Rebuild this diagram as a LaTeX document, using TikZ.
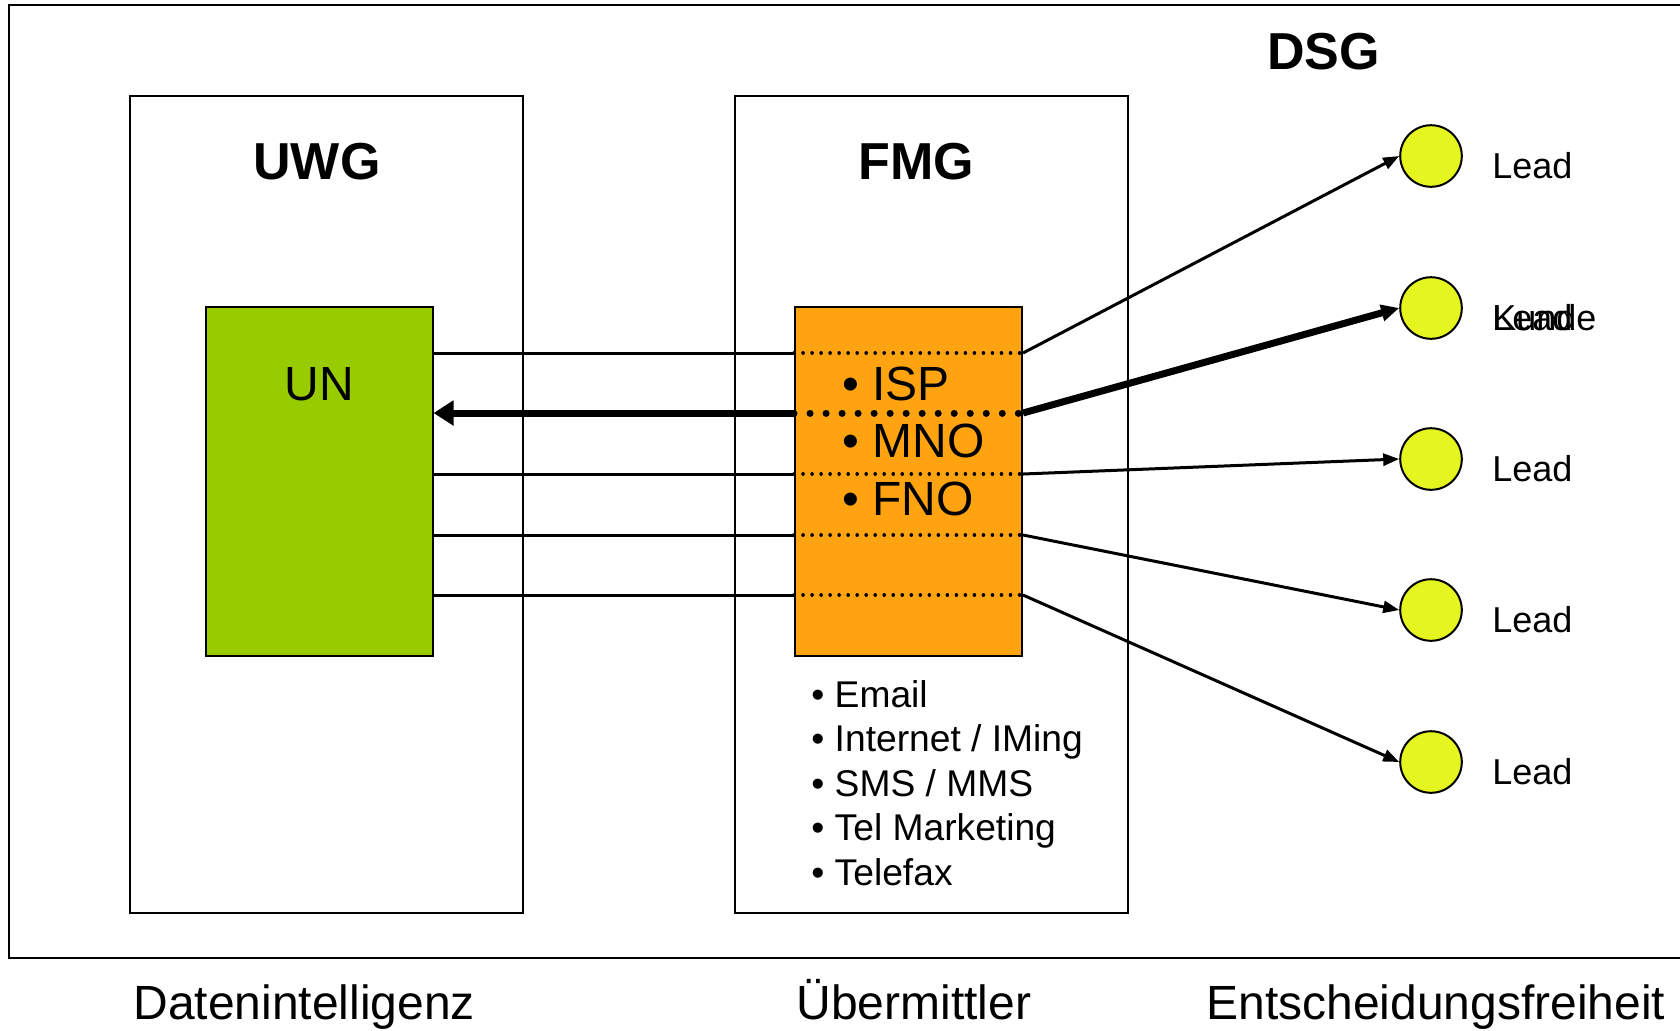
\documentclass[tikz,border=0pt]{standalone}
\usepackage{fontspec}
\setmainfont{Liberation Sans}
\usetikzlibrary{arrows.meta,positioning}

\definecolor{unGreen}{RGB}{153,204,0}
\definecolor{fmgOrange}{RGB}{255,163,17}
\definecolor{leadYellow}{RGB}{229,245,32}

\begin{document}
\begin{tikzpicture}[x=0.5pt,y=-0.5pt,
    lawbox/.style={draw,line width=0.75pt,minimum width=196.5pt,minimum height=408.5pt,inner sep=0pt},
    provbox/.style={draw,line width=1pt,minimum width=113.5pt,minimum height=174.5pt,inner sep=0pt},
    leaddot/.style={circle,draw,line width=1pt,fill=leadYellow,minimum size=30.8pt,inner sep=0pt},
    title/.style={font=\fontsize{26}{30}\selectfont\bfseries,inner sep=0pt,anchor=base west},
    label/.style={font=\fontsize{18}{22}\selectfont,inner sep=0pt,anchor=base west},
    item/.style={font=\fontsize{18.6}{22}\selectfont,inner sep=0pt,anchor=base west},
    biglabel/.style={font=\fontsize{24}{28}\selectfont,inner sep=0pt,anchor=base west},
    link/.style={line width=1.5pt},
    thru/.style={line width=1.8pt,line cap=round,dash pattern=on 0.01pt off 4.5pt},
    boldlink/.style={line width=3.5pt},
    boldthru/.style={line width=3.5pt,line cap=round,dash pattern=on 0.01pt off 8pt},
    tip/.style={-{Triangle[length=8pt,width=6pt]}}]
    \clip (0,0) rectangle (1680,1030);
    % frame, open to the right
    \draw[line width=1pt] (9,5) rectangle (1700,958);
            \node[lawbox] (uwg) at (326.5,504.5) {};
            \node[lawbox] (fmg) at (931.5,504.5) {};
            \node[title] at (253,179) {UWG};
            \node[title] at (858,179) {FMG};
            \node[title] at (1267,69) {DSG};
            \node[provbox,fill=unGreen] (un) at (319,481.5) {};
            \node[biglabel] at (284,400) {UN};
            \node[provbox,fill=fmgOrange] (op) at (908.5,481.5) {};
            \node[biglabel] (isp) at (842,400) {• ISP};
            \node[biglabel,below=28.75pt of isp.base west,anchor=base west] (mno) {• MNO};
            \node[biglabel,below=28.75pt of mno.base west,anchor=base west] (fno) {• FNO};
            % channels
            \node[item] (mail) at (811,707) {• Email};
            \node[item,below=22.3pt of mail.base west,anchor=base west] (web) {• Internet / IMing};
            \node[item,below=22.3pt of web.base west,anchor=base west] (sms) {• SMS / MMS};
            \node[item,below=22.3pt of sms.base west,anchor=base west] (tel) {• Tel Marketing};
            \node[item,below=22.3pt of tel.base west,anchor=base west] (fax) {• Telefax};
            % receivers
            \node[leaddot] (c1) at (1431,156) {};
            \node[leaddot] (c2) at (1431,308) {};
            \node[leaddot] (c3) at (1431,459) {};
            \node[leaddot] (c4) at (1431,610) {};
            \node[leaddot] (c5) at (1431,762) {};
            \node[label] at ([shift={(61,22)}]c1.center) {Lead};
            \node[label] at ([shift={(61,22)}]c2.center) {Lead};
            \node[label] at ([shift={(61,22)}]c2.center) {Kunde};
            \node[label] at ([shift={(61,22)}]c3.center) {Lead};
            \node[label] at ([shift={(61,22)}]c4.center) {Lead};
            \node[label] at ([shift={(61,22)}]c5.center) {Lead};
            % rows
            \coordinate (r1) at (0,353);
            \coordinate (r2) at (0,413);
            \coordinate (r3) at (0,474);
            \coordinate (r4) at (0,535);
            \coordinate (r5) at (0,595);
            \draw[link] (un.east |- r1) -- (op.west |- r1);
            \draw[thru] (op.west |- r1) -- (op.east |- r1);
            \draw[link,tip] (op.east |- r1) -- (c1.west);
            \draw[boldlink,-{Triangle[length=10pt,width=12pt]}] (op.west |- r2) -- (un.east |- r2);
            \draw[boldthru] (op.west |- r2) -- (op.east |- r2);
            \draw[boldlink,-{Triangle[length=9pt,width=8pt]}] (op.east |- r2) -- (c2.west);
            \draw[link] (un.east |- r3) -- (op.west |- r3);
            \draw[thru] (op.west |- r3) -- (op.east |- r3);
            \draw[link,tip] (op.east |- r3) -- (c3.west);
            \draw[link] (un.east |- r4) -- (op.west |- r4);
            \draw[thru] (op.west |- r4) -- (op.east |- r4);
            \draw[link,tip] (op.east |- r4) -- (c4.west);
            \draw[link] (un.east |- r5) -- (op.west |- r5);
            \draw[thru] (op.west |- r5) -- (op.east |- r5);
            \draw[link,tip] (op.east |- r5) -- (c5.west);
            % bottom captions
            \node[biglabel] at (133,1019) {Datenintelligenz};
            \node[biglabel] at (796,1019) {Übermittler};
            \node[biglabel] at (1206,1019) {Entscheidungsfreiheit};
        \end{tikzpicture}
\end{document}
